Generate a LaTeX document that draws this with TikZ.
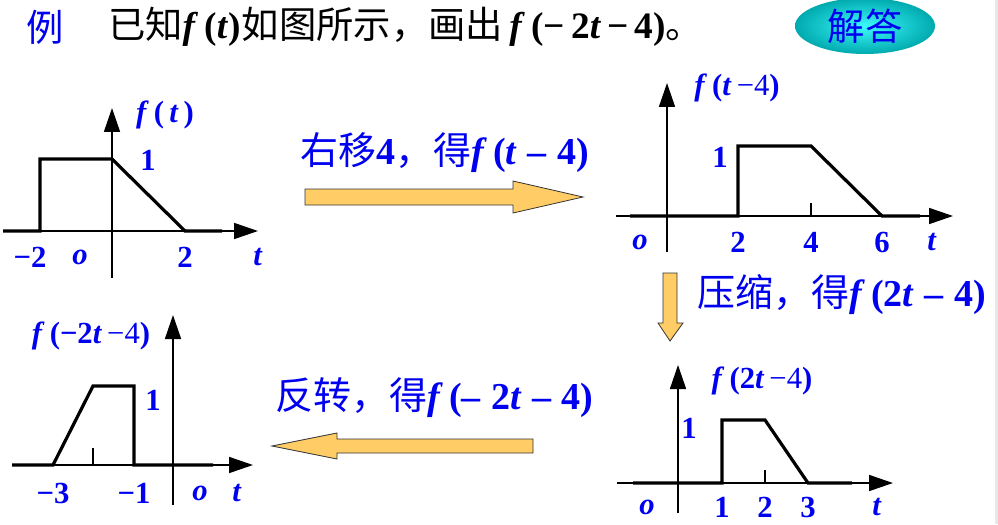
\documentclass[tikz,border=0pt]{standalone}
\usepackage{fontspec}
\setmainfont{Liberation Serif}
\newfontfamily\cjk{Noto Sans CJK SC}
\usetikzlibrary{arrows.meta,shapes.geometric}
\definecolor{lblue}{RGB}{0,0,240}
\definecolor{arrfill}{RGB}{255,204,102}
\definecolor{btnin}{RGB}{60,250,250}
\definecolor{btnout}{RGB}{0,170,175}

\begin{document}
\begin{tikzpicture}[x=0.75pt,y=-0.75pt,inner sep=0pt,outer sep=0pt,
	axis/.style={line width=1.2pt},
	sig/.style={line width=2.4pt,line join=miter},
	lab/.style={text=lblue,font=\fontsize{23}{25}\selectfont\bfseries},
	big/.style={text=lblue,font=\fontsize{28.5}{30}\selectfont\bfseries,anchor=west},
	blk/.style={draw=black!80,fill=arrfill,line width=0.6pt}]
	\useasboundingbox (0,0) rectangle (998,524);
	\fill[gray!18] (995,0) rectangle (998,524);
	% title
	\node[text=lblue,font=\fontsize{28}{30}\selectfont\cjk] (li) at (45,27) {例};
	\node[anchor=west,font=\fontsize{28}{30}\selectfont\bfseries] (title) at (108,27)
		{{\cjk\mdseries 已知}\textit{f}\,(\textit{t})\kern1pt{\cjk\mdseries 如图所示，画出}\,\textit{f}\,(−\,2\textit{t}\,−\,4){\cjk\mdseries 。}};
	\node[ellipse,minimum width=105pt,minimum height=42pt,inner color=btnin,outer color=btnout,
		text=lblue,font=\fontsize{28}{30}\selectfont\cjk] (ans) at (865,26) {解答};
	% axes
	\coordinate (xa1) at (3,231);   \coordinate (xb1) at (258,231);
	\coordinate (ya1) at (112,278); \coordinate (yb1) at (112,108);
	\coordinate (xa2) at (616,216); \coordinate (xb2) at (953,216);
	\coordinate (ya2) at (667,252); \coordinate (yb2) at (667,83);
	\coordinate (xa3) at (617,483); \coordinate (xb3) at (893,483);
	\coordinate (ya3) at (678,513); \coordinate (yb3) at (678,365);
	\coordinate (xa4) at (12,465);  \coordinate (xb4) at (253,465);
	\coordinate (ya4) at (173,505); \coordinate (yb4) at (173,315);
	\begin{scope}[->,>={Triangle[length=18pt,width=12pt]},axis]
	\foreach \i in {1,...,4} {
		\draw (xa\i) -- (xb\i);
		\draw (ya\i) -- (yb\i);
	}
	\end{scope}
	% signals
	\draw[sig] (3,231) -- (40,231) -- (40,159) -- (112,159) -- (185,231) -- (222,231);
	\draw[sig] (630,216) -- (738,216) -- (738,146) -- (811,146) -- (882,216) -- (920,216);
	\draw[sig] (633,483) -- (722,483) -- (722,420) -- (765,420) -- (808,483) -- (852,483);
	\draw[sig] (12,465) -- (53,465) -- (93,386) -- (134,386) -- (134,465) -- (213,465);
	\draw[axis] (811,216) -- (811,203);
	\draw[axis] (765,483) -- (765,470);
	\draw[axis] (93,465) -- (93,448);
	% f(t)
	\node[lab] (f1) at (165,115) {\textit{f}\,(\,\textit{t}\,)};
	\node[lab] (h1) at (148,160) {1};
	\node[lab] (m2) at (30,257) {−2};
	\node[lab] (o1) at (80,257) {\textit{o}};
	\node[lab] (p2) at (185,257) {2};
	\node[lab] (t1) at (258,257) {\textit{t}};
	% f(t-4)
	\node[lab] (f2) at (737,88) {\textit{f}\,(\textit{t}\,{\mdseries−4})};
	\node[lab] (h2) at (720,157) {1};
	\node[lab] (o2) at (640,242) {\textit{o}};
	\node[lab] (a2) at (738,242) {2};
	\node[lab] (a4) at (811,242) {4};
	\node[lab] (a6) at (882,242) {6};
	\node[lab] (t2) at (932,242) {\textit{t}};
	% f(2t-4)
	\node[lab] (f3) at (762,381) {\textit{f}\,(2\textit{t}\,{\mdseries−4})};
	\node[lab] (h3) at (689,428) {1};
	\node[lab] (o3) at (647,507) {\textit{o}};
	\node[lab] (b1) at (722,507) {1};
	\node[lab] (b2) at (765,507) {2};
	\node[lab] (b3) at (808,507) {3};
	\node[lab] (t3) at (877,507) {\textit{t}};
	% f(-2t-4)
	\node[lab] (f4) at (91,336) {\textit{f}\,(−2\textit{t}\,{\mdseries−4})};
	\node[lab] (h4) at (153,400) {1};
	\node[lab] (m3) at (53,493) {−3};
	\node[lab] (m1) at (134,493) {−1};
	\node[lab] (o4) at (200,493) {\textit{o}};
	\node[lab] (t4) at (237,493) {\textit{t}};
	% block arrows
	\draw[blk] (305,189) -- (513,189) -- (513,181) -- (583,197) -- (513,213) -- (513,205) -- (305,205) -- cycle;
	\draw[blk] (663,273) -- (677,273) -- (677,323) -- (683,323) -- (670,341) -- (658,323) -- (663,323) -- cycle;
	\draw[blk] (533,439) -- (337,439) -- (337,433) -- (272,446) -- (337,459) -- (337,453) -- (533,453) -- cycle;
	\node[big] (s1) at (300,153) {{\cjk\mdseries 右移}4{\cjk\mdseries ，得}\textit{f}\,(\textit{t}\;–\;4)};
	\node[big] (s2) at (697,295) {{\cjk\mdseries 压缩，得}\textit{f}\,(2\textit{t}\;–\;4)};
	\node[big] (s3) at (275,398) {{\cjk\mdseries 反转，得}\textit{f}\,(–\;2\textit{t}\;–\;4)};
\end{tikzpicture}
\end{document}
